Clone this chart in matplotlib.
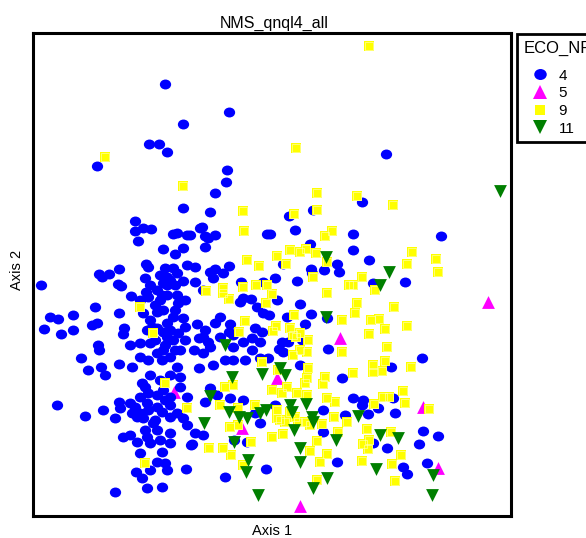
import numpy as np
import matplotlib.pyplot as plt
from matplotlib.path import Path
from matplotlib.transforms import Affine2D
from matplotlib.lines import Line2D

plt.rcParams['font.family'] = ['Liberation Sans', 'DejaVu Sans']

# NMS ordination scores (Axis 1, Axis 2) by ECO_NR group
eco4_x = [-1.07, -0.43, -0.89, -1.23, -1.13, -1.05, -1.75, -0.45, -0.46, -0.57, -0.89, -0.62,
          -1.37, -1.37, -1.29, -1.21, -1.34, -0.99, -0.95, -0.85, -0.70, -0.67, -0.57, -0.64,
          -0.72, -0.67, -0.89, -1.09, -0.97, -0.82, -0.05, 1.14, 0.90, 0.41, 0.17, 0.23,
          -0.02, 0.81, 1.69, 0.38, 0.81, 0.97, 0.11, 0.65, 0.39, 0.52, -1.26, -1.24,
          -1.53, -1.07, -0.85, -0.77, -0.43, -0.57, -0.99, -1.12, -1.05, -1.02, -0.95, -1.27,
          -1.73, -1.70, -1.63, -0.89, -1.05, -1.54, -1.51, -2.31, -0.59, -0.77, -0.31, -0.09,
          0.03, 0.25, 0.67, -0.49, -0.62, -0.69, -1.09, 1.01, 1.33, 0.05, 0.28, -1.41,
          -1.26, -1.15, -1.10, -1.12, -0.95, -0.94, -1.24, -1.05, -0.29, -0.21, -0.15, -0.32,
          -1.77, -1.53, -2.22, -2.14, -1.99, -2.28, -2.11, -1.99, -1.80, -1.75, -1.48, -1.49,
          -1.20, -1.09, -1.02, -0.89, -0.87, -1.29, -1.22, -1.15, -1.09, -1.05, -0.99, -1.05,
          -1.74, -1.42, -1.32, -1.22, -0.99, -1.25, -1.15, -0.94, -0.75, -0.67, -0.69, -0.57,
          -0.52, -0.42, -0.17, 0.33, 0.55, -0.03, 0.15, 0.39, -0.09, -0.52, -0.39, -0.20,
          -0.10, 0.30, -0.43, -0.29, -0.39, -0.12, -0.73, -0.64, -0.62, 0.10, 0.16, 0.11,
          0.56, 0.28, -1.73, -1.91, -1.53, -1.84, -1.71, -1.67, -1.40, -1.32, -1.24, -1.15,
          -1.10, -1.02, -0.95, -1.09, -1.30, -1.27, -1.24, -1.15, -1.09, -1.02, -0.92, -0.85,
          -1.32, -1.25, -1.37, -1.32, -1.24, -1.15, -1.10, -1.02, -0.95, -0.89, -0.85, -1.02,
          -0.77, -0.69, -0.81, -0.62, -0.55, -0.42, -0.29, -0.67, -0.27, -0.20, -0.12, -0.47,
          -0.39, -0.59, -0.73, -0.78, -0.69, -0.38, -0.25, -0.12, -0.17, -0.04, -2.15, -1.87,
          -1.69, -1.57, -1.53, -1.52, -1.42, -1.40, -1.35, -1.29, -1.19, -1.15, -1.27, -1.25,
          -1.22, -1.49, -1.42, -1.35, -1.02, -1.02, -1.10, -1.15, -1.32, -1.07, -1.05, -1.22,
          -1.36, -1.30, -1.25, -1.10, -1.57, -0.86, -0.80, -0.47, -0.06, 0.07, 0.70, 0.03,
          0.51, 0.51, 0.73, 0.65, 0.40, 0.81, 0.91, 0.90, 1.06, 0.96, 1.23, 1.01,
          1.15, 1.51, 1.66, 1.47, 1.31, 1.35, 1.55, 1.19, 1.50, 1.21, -1.17, -0.97,
          -1.07, -1.17, -0.97, -1.12, -1.02, -1.22, -0.92, -1.07, -1.17, -1.12, -0.92, -0.87,
          -0.97, -0.87, -1.22, -1.32]
eco4_y = [1.91, 1.63, 1.51, 1.31, 1.31, 1.23, 1.09, 1.05, 0.93, 0.82, 0.67, 0.63,
          0.54, 0.44, 0.47, 0.46, 0.34, 0.41, 0.42, 0.40, 0.48, 0.39, 0.40, 0.37,
          0.47, 0.28, 0.27, 0.26, 0.21, 0.40, 0.41, 1.21, 0.73, 0.65, 0.59, 0.45,
          0.41, 0.41, 0.39, 0.31, 0.25, 0.15, 0.11, 0.11, 0.06, 0.05, 0.11, 0.08,
          0.06, 0.07, 0.10, 0.08, 0.09, 0.06, 0.07, 0.00, -0.02, -0.05, 0.02, -0.03,
          0.01, -0.02, 0.01, -0.06, -0.10, -0.09, -0.11, -0.10, -0.03, -0.07, -0.07, -0.07,
          -0.03, -0.06, 0.03, 0.02, 0.03, -0.15, -0.08, -0.08, -0.07, -0.25, -0.29, -0.21,
          -0.17, -0.15, -0.20, -0.25, -0.20, -0.28, -0.22, -0.20, -0.23, -0.24, -0.32, -0.27,
          -0.32, -0.38, -0.42, -0.44, -0.40, -0.54, -0.59, -0.55, -0.50, -0.48, -0.53, -0.59,
          -0.52, -0.57, -0.55, -0.43, -0.52, -0.38, -0.45, -0.37, -0.35, -0.48, -0.65, -0.62,
          -0.70, -0.70, -0.68, -0.68, -0.42, -0.55, -0.53, -0.58, -0.49, -0.55, -0.62, -0.48,
          -0.42, -0.49, -0.53, -0.49, -0.43, -0.40, -0.42, -0.39, -0.38, -0.62, -0.60, -0.63,
          -0.57, -0.65, -0.57, -0.67, -0.72, -0.67, -0.63, -0.67, -0.72, -0.67, -0.67, -0.77,
          -0.74, -0.90, -0.75, -0.83, -0.89, -0.95, -0.92, -1.00, -0.92, -0.82, -0.85, -0.78,
          -0.85, -0.82, -0.92, -0.75, -1.08, -1.12, -1.18, -1.20, -1.15, -1.22, -1.12, -1.22,
          -1.22, -1.28, -1.32, -1.38, -1.35, -1.32, -1.37, -1.30, -1.38, -1.43, -1.50, -1.42,
          -1.58, -1.60, -1.70, -1.13, -1.20, -1.23, -1.25, -1.27, -0.85, -0.75, -0.83, -0.85,
          -0.85, -0.90, -0.93, -0.75, -0.78, -1.65, -1.67, -1.48, -1.38, -0.83, -1.30, -1.41,
          -1.35, -1.43, -1.27, -1.33, -1.28, -1.38, -1.42, -1.43, -1.48, -1.55, -1.55, -1.62,
          -1.68, -1.62, -1.60, -1.67, -1.58, -1.68, -1.77, -1.87, -1.78, -1.88, -1.95, -1.95,
          -1.97, -2.03, -2.13, -2.12, -2.17, -1.94, -1.69, -2.02, -1.94, -0.74, -1.03, -1.30,
          -1.35, -1.57, -1.40, -1.87, 0.02, -1.23, -1.25, -1.30, -1.33, -1.39, -1.38, -1.68,
          -1.73, -1.56, -1.61, -1.69, -1.92, -1.99, -1.88, -0.92, -0.83, -1.23, -0.30, -0.35,
          -0.70, -0.65, -0.75, -1.05, -1.00, -1.00, -1.02, -1.25, -1.45, -1.65, -0.75, -0.65,
          -0.10, -0.25, -0.10, -0.25]

eco5_x = [2.16, 0.68, -0.98, 0.05, -0.30, 1.51, 1.66, 0.28]
eco5_y = [-0.27, -0.63, -1.17, -1.03, -1.53, -1.32, -1.93, -2.31]

eco9_x = [-1.67, -0.89, -0.29, -0.28, -0.25, -0.13, 0.97, 0.24, 0.45, 0.85, 1.21, 0.45,
          0.22, 0.60, 0.53, 1.40, 1.64, 0.05, 0.18, 0.28, 0.34, 0.44, 0.55, 0.14,
          1.35, 1.66, 0.41, 0.77, 0.55, -0.49, -0.49, -0.43, -0.66, -0.29, -0.16, 0.00,
          -0.06, 0.22, 0.70, 0.04, 0.01, -0.27, -0.33, 0.28, 0.24, 0.90, 0.81, 1.03,
          0.85, 0.83, 1.22, 0.99, 1.07, 1.13, 1.35, 0.97, 1.15, -1.32, -1.19, -1.07,
          -0.85, -1.27, -0.05, -0.10, -0.47, -0.39, -0.52, -0.34, -0.17, -0.42, -0.34, -0.21,
          -0.63, -0.49, -0.41, -0.29, 0.70, 0.28, 0.35, 0.21, 0.36, 0.35, 0.33, 0.53,
          0.51, 0.06, 0.00, 0.15, 0.25, 0.35, 0.55, 0.63, 0.05, 0.08, 0.18, 0.23,
          0.26, 0.05, 0.33, 0.38, 0.50, 0.62, 0.75, 0.00, 0.11, 0.66, 0.45, 0.38,
          0.55, 0.48, 0.45, 0.18, 0.21, 0.36, 1.01, 1.13, 1.01, 1.10, 0.81, 1.39,
          0.10, 1.17, 1.31, 1.33, 1.57, 1.02, 0.13, 0.95, 0.91, 0.97, 0.96, 0.90,
          1.29, 1.20, 1.23, 1.19, 1.11]
eco9_y = [1.18, 0.89, 0.64, 0.44, 0.15, 0.09, 2.29, 1.27, 0.82, 0.79, 0.70, 0.65,
          0.61, 0.44, 0.39, 0.23, 0.16, 0.19, 0.25, 0.23, 0.26, 0.22, 0.13, 0.11,
          0.11, 0.03, -0.02, -0.10, -0.18, -0.13, -0.18, -0.24, -0.16, -0.12, -0.10, -0.19,
          -0.28, -0.40, -0.45, -0.51, -0.56, -0.46, -0.57, -0.58, -0.62, -0.02, -0.10, -0.15,
          -0.28, -0.38, -0.32, -0.45, -0.44, -0.54, -0.51, -0.59, -0.72, -0.32, -0.58, -1.08,
          -1.33, -1.88, -0.10, -0.87, -1.12, -1.10, -1.30, -1.33, -1.30, -1.52, -1.50, -1.67,
          -1.73, -1.73, -1.80, -1.90, -0.77, -0.75, -0.77, -0.80, -0.93, -1.03, -1.08, -1.02,
          -1.09, -0.95, -1.15, -1.12, -1.18, -1.20, -1.23, -1.27, -1.35, -1.45, -1.37, -1.42,
          -1.47, -1.43, -1.47, -1.50, -1.49, -1.42, -1.47, -1.62, -1.59, -1.57, -1.66, -1.76,
          -1.79, -1.87, -2.05, -0.53, -0.60, -0.65, -0.90, -0.86, -0.97, -0.96, -0.98, -0.92,
          -1.18, -1.22, -1.16, -1.28, -1.34, -1.29, -1.47, -1.54, -1.69, -1.65, -1.74, -1.86,
          -1.80, -1.89, -2.06, -1.57, -1.22]

eco11_x = [2.28, 0.54, 1.17, 1.08, 0.54, -0.47, -0.40, -0.10, -0.62, -0.43, -0.33, -0.25,
           -0.06, -0.12, -0.68, -0.38, -0.24, -0.26, -0.14, 0.08, 0.13, 0.18, 0.20, 0.34,
           0.40, 0.41, 0.22, 0.64, 0.28, 0.28, 0.55, 0.41, 0.86, 1.08, 1.26, 1.04,
           1.61, 1.60]
eco11_y = [0.84, 0.18, 0.03, -0.10, -0.42, -0.70, -1.02, -0.99, -1.21, -1.37, -1.42, -1.43,
           -1.35, -1.38, -1.48, -1.67, -1.85, -1.97, -2.20, -0.93, -1.00, -1.30, -1.37, -1.29,
           -1.42, -1.47, -1.55, -1.65, -1.73, -1.87, -2.03, -2.13, -1.41, -1.60, -1.63, -1.94,
           -2.00, -2.20]

group_labels = ['4', '5', '9', '11']

# slightly flattened dot used for group 4
ellipse = Path(Affine2D().scale(1.0, 0.88).transform(Path.unit_circle().vertices),
               Path.unit_circle().codes)

fig = plt.figure(figsize=(5.86, 5.38), dpi=100)
ax = fig.add_axes([33 / 586, 1 - 516 / 538, 478 / 586, 483 / 538])

ax.scatter(eco5_x, eco5_y, marker='^', s=85, color='#ff00ff', linewidths=0, zorder=2)
ax.scatter(eco4_x, eco4_y, marker=ellipse, s=66, color='#0000ff', linewidths=0, zorder=3)
ax.scatter(eco9_x, eco9_y, marker='s', s=58, color='#ffff00', linewidths=0, zorder=4)
ax.scatter(eco9_x, eco9_y, marker='s', s=30, facecolors='none', edgecolors='#ffffc8',
           linewidths=0.4, zorder=4)
ax.scatter(eco11_x, eco11_y, marker='v', s=85, color='#007f00', linewidths=0, zorder=5)

ax.set_xlim(-2.39, 2.39)
ax.set_ylim(-2.41, 2.42)
ax.set_xticks([])
ax.set_yticks([])
for sp in ax.spines.values():
    sp.set_linewidth(2.2)
    sp.set_color('black')

fig.text(274 / 586, 1 - 23 / 538, 'NMS_qnql4_all', ha='center', va='center', fontsize=11.5)
fig.text(272 / 586, 1 - 531 / 538, 'Axis 1', ha='center', va='center', fontsize=10.5)
fig.text(17 / 586, 1 - 270 / 538, 'Axis 2', ha='center', va='center', fontsize=10.5,
         rotation=90)

handles = [
    Line2D([], [], ls='none', marker=ellipse, ms=9, color='#0000ff', mew=0),
    Line2D([], [], ls='none', marker='^', ms=10, color='#ff00ff', mew=0),
    Line2D([], [], ls='none', marker='s', ms=7.5, color='#ffff00', mew=0),
    Line2D([], [], ls='none', marker='v', ms=10, color='#007f00', mew=0),
]
leg = fig.legend(handles, group_labels, title='ECO_NR', loc='upper left',
                 bbox_to_anchor=(517 / 586, 1 - 34 / 538), fontsize=11, title_fontsize=12,
                 fancybox=False, edgecolor='black', framealpha=1, alignment='left',
                 handlelength=2.2, handletextpad=0.1, labelspacing=0.24, borderpad=0.42,
                 borderaxespad=0)
leg.get_frame().set_linewidth(2.0)
# extra room between the legend title and its entries
leg._legend_box.sep = 9.5

fig.savefig('out.png', dpi=100)
